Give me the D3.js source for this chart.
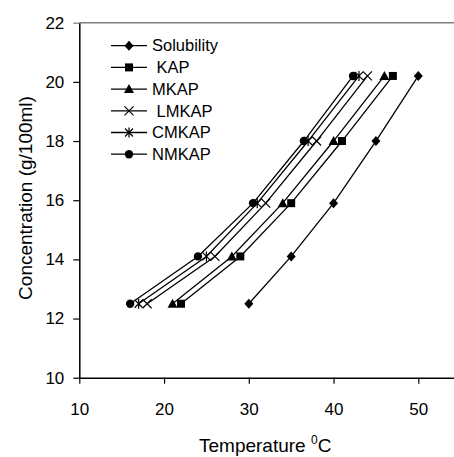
<!DOCTYPE html>
<html lang="en">
<head>
    <meta charset="UTF-8">
    <title>Solubility</title>
    <script type="application/javascript" src="https://d3js.org/d3.v7.min.js"></script>
    <style>
        body { margin: 0; background: #fff; }
        svg { display: block; font-family: "Liberation Sans", Arial, sans-serif; }
    </style>
</head>
<body>
<svg width="454" height="457"></svg>
<script type="application/javascript">
    // concentration levels (g/100ml), shared by every series
    var concentration = [12.5, 14.1, 15.9, 18.0, 20.2];

    // temperatures (deg C) for each series
    var solubility = [30, 35, 40, 45, 50];
    var kap = [22, 29, 35, 41, 47];
    var mkap = [21, 28, 34, 40, 46];
    var lmkap = [18, 26, 32, 38, 44];
    var cmkap = [17, 25, 31, 37, 43];
    var nmkap = [16, 24, 30.5, 36.5, 42.3];

    var seriesNames = ["Solubility", " KAP", "MKAP", " LMKAP", "CMKAP", "NMKAP"];
    var seriesValues = [solubility, kap, mkap, lmkap, cmkap, nmkap];
    var markers = ["diamond", "square", "triangle", "cross", "star", "circle"];

    var xTicks = [10, 20, 30, 40, 50];
    var yTicks = [10, 12, 14, 16, 18, 20, 22];

    var svg = d3.select("svg");
    var plotLeft = 79.3, plotTop = 22.7, plotBottom = 377.7;

    var x = d3.scaleLinear().domain([10, 60]).range([plotLeft, plotLeft + 5 * 84.75]);
    var y = d3.scaleLinear().domain([10, 22]).range([plotBottom, plotTop]);

    // top border (grey)
    svg.append("line")
        .attr("x1", plotLeft).attr("x2", 454)
        .attr("y1", plotTop).attr("y2", plotTop)
        .attr("stroke", "#808080").attr("stroke-width", 1.5);

    var yAxis = svg.append("g")
        .attr("transform", "translate(" + plotLeft + ",0)")
        .call(d3.axisLeft(y).tickValues(yTicks).tickSize(6).tickPadding(9).tickSizeOuter(0));

    var xAxis = svg.append("g")
        .attr("transform", "translate(0," + plotBottom + ")")
        .call(d3.axisBottom(x).tickValues(xTicks).tickSize(6).tickPadding(19).tickSizeOuter(0));

    [xAxis, yAxis].forEach(function (g) {
        g.select(".domain").attr("stroke", "#000").attr("stroke-width", 1.5);
        g.selectAll(".tick line").attr("stroke", "#000").attr("stroke-width", 1.2);
        g.selectAll("text").attr("font-size", 17).attr("fill", "#000")
            .attr("font-family", "Liberation Sans, Arial, sans-serif");
    });
    yAxis.select(".tick:last-of-type line").attr("stroke", "#808080");

    // axis titles
    var xt = svg.append("text")
        .attr("x", 199).attr("y", 452)
        .attr("font-size", 19);
    xt.append("tspan").text("Temperature ");
    xt.append("tspan").attr("font-size", 12).attr("dy", -8).text("0");
    xt.append("tspan").attr("dy", 8).text("C");

    svg.append("text")
        .attr("transform", "translate(32,198) rotate(-90)")
        .attr("text-anchor", "middle")
        .attr("font-size", 19)
        .text("Concentration (g/100ml)");

    function symbolPath(type) {
        if (type === "diamond") return "M0,-5L4.5,0L0,5L-4.5,0Z";
        if (type === "square") return "M-4,-4H4V4H-4Z";
        if (type === "triangle") return "M0,-5L5,4H-5Z";
        if (type === "cross") return "M-4.5,-4.5L4.5,4.5M4.5,-4.5L-4.5,4.5";
        if (type === "star") return "M-4,-4L4,4M4,-4L-4,4M0,-5V5";
        return d3.symbol().type(d3.symbolCircle).size(55)();
    }

    function drawMarker(g, type, cx, cy) {
        var open = type === "cross" || type === "star";
        g.append("path")
            .attr("transform", "translate(" + cx + "," + cy + ")")
            .attr("d", symbolPath(type))
            .attr("fill", open ? "none" : "#000")
            .attr("stroke", "#000")
            .attr("stroke-width", open ? 1.2 : 0);
    }

    var line = d3.line()
        .x(function (d) { return x(d[0]); })
        .y(function (d) { return y(d[1]); });

    var plot = svg.append("g");
    seriesValues.forEach(function (vals, i) {
        var pts = vals.map(function (v, j) { return [v, concentration[j]]; });
        plot.append("path")
            .attr("d", line(pts))
            .attr("fill", "none")
            .attr("stroke", "#000")
            .attr("stroke-width", 1.3);
        pts.forEach(function (p) {
            drawMarker(plot, markers[i], x(p[0]), y(p[1]));
        });
    });

    // legend
    var legend = svg.append("g");
    seriesNames.forEach(function (name, i) {
        var ly = 45.7 + i * 21.7;
        legend.append("line")
            .attr("x1", 111).attr("x2", 147)
            .attr("y1", ly).attr("y2", ly)
            .attr("stroke", "#000").attr("stroke-width", 1.3);
        drawMarker(legend, markers[i], 129, ly);
        legend.append("text")
            .attr("x", 152).attr("y", ly)
            .attr("dy", "0.35em")
            .attr("font-size", 16.5)
            .style("white-space", "pre")
            .text(name);
    });
</script>
</body>
</html>
